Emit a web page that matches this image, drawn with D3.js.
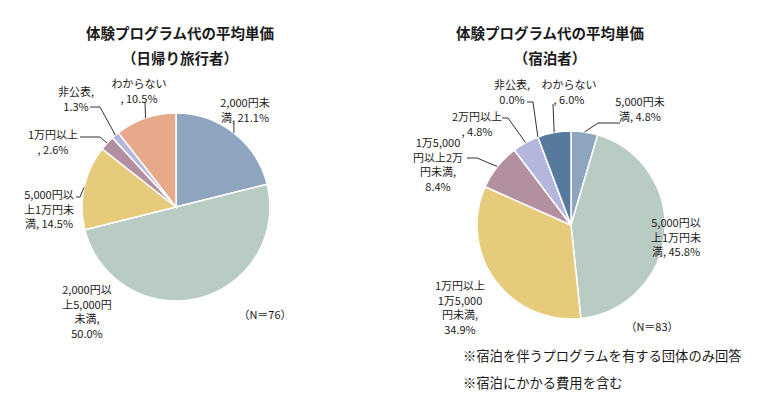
<!DOCTYPE html>
<html>
<head>
<meta charset="utf-8">
<script src="https://cdn.jsdelivr.net/npm/d3@7"></script>
<style>
  body { margin: 0; background: #fff; }
  text { font-family: "Noto Sans CJK JP", "Noto Sans", sans-serif; fill: #1a1a1a; }
</style>
</head>
<body>
<svg id="chart" width="760" height="397"></svg>
<script>
// --- data ---
const dayCategories = ['2,000円未満', '2,000円以上5,000円未満', '5,000円以上1万円未満', '1万円以上', '非公表', 'わからない'];
const dayValues = [21.1, 50.0, 14.5, 2.6, 1.3, 10.5];
const dayColors = ['#8ea5bf', '#b9ccc4', '#e6cb7d', '#b3909f', '#b4b6dc', '#e6aa8a'];

const stayCategories = ['5,000円未満', '5,000円以上1万円未満', '1万円以上1万5,000円未満', '1万5,000円以上2万円未満', '2万円以上', '非公表', 'わからない'];
const stayValues = [4.8, 45.8, 34.9, 8.4, 4.8, 0.0, 6.0];
const stayColors = ['#8ea5bf', '#b9ccc4', '#e6cb7d', '#b3909f', '#b4b6dc', '#b4b6dc', '#56799d'];

const titles = ['体験プログラム代の平均単価', '体験プログラム代の平均単価'];
const subtitles = ['（日帰り旅行者）', '（宿泊者）'];
const sampleNotes = ['（N＝76）', '（N＝83）'];
const footNotes = ['※宿泊を伴うプログラムを有する団体のみ回答', '※宿泊にかかる費用を含む'];

// --- layout: label centre, line breaks, leader path start points ---
const dayLabels = [
  { x: 245, y: 102, breaks: [7], leader: [[234, 123]] },
  { x: 87, y: 289, breaks: [7, 7, 3], leader: null },
  { x: 49, y: 194, breaks: [7, 5], leader: [[76, 197], [80, 197]] },
  { x: 53, y: 134, breaks: [5], leader: [[80, 137], [100, 137]] },
  { x: 76, y: 91, breaks: [4], leader: [[90, 107], [100, 107]] },
  { x: 139, y: 83, breaks: [5], leader: [[145, 103]] }
];
const stayLabels = [
  { x: 640, y: 101, breaks: [7], leader: [[620, 123], [598, 123]] },
  { x: 676, y: 222, breaks: [7, 5], leader: null },
  { x: 460, y: 285, breaks: [5, 7, 4], leader: null },
  { x: 438, y: 142, breaks: [7, 5, 4], leader: [[467, 158], [477, 158]] },
  { x: 477, y: 116, breaks: [5], leader: [[502, 118], [508, 118]] },
  { x: 512, y: 84, breaks: [4], leader: [[527, 102], [533, 102]] },
  { x: 569, y: 84, breaks: [5], leader: [[553, 104]] }
];

const svg = d3.select('#chart');
svg.append('rect').attr('width', 760).attr('height', 397).attr('fill', '#fff');

function splitLabel(str, breaks) {
  const out = [];
  let pos = 0;
  breaks.forEach((n) => {
    out.push(str.slice(pos, pos + n).trim());
    pos += n;
  });
  out.push(str.slice(pos).trim());
  return out;
}

function drawPie(opts) {
  const { cx, cy, r, categories, values, colors, labels, title, subtitle, titleX, nLabel } = opts;
  const g = svg.append('g');

  g.append('text').attr('x', titleX).attr('y', 32).attr('text-anchor', 'middle')
    .attr('dominant-baseline', 'central').style('font-size', '14.5px').style('font-weight', 'bold')
    .text(title);
  g.append('text').attr('x', titleX).attr('y', 57).attr('text-anchor', 'middle')
    .attr('dominant-baseline', 'central').style('font-size', '14.5px').style('font-weight', 'bold')
    .text(subtitle);

  const rows = categories.map((c, i) => ({ name: c, value: values[i], color: colors[i], label: labels[i] }));
  const pie = d3.pie().value((d) => d.value).sort(null);
  const arc = d3.arc().innerRadius(0).outerRadius(r);
  const edge = d3.arc().innerRadius(r).outerRadius(r);
  const arcs = pie(rows);

  const pg = g.append('g').attr('transform', `translate(${cx},${cy})`);
  pg.selectAll('path.slice')
    .data(arcs)
    .join('path')
    .attr('class', 'slice')
    .attr('d', arc)
    .attr('fill', (d) => d.data.color)
    .attr('stroke', '#fff')
    .attr('stroke-width', 1.5);

  // leader lines
  const line = d3.line();
  g.selectAll('path.leader')
    .data(arcs.filter((d) => d.data.label.leader))
    .join('path')
    .attr('class', 'leader')
    .attr('d', (d) => {
      const mid = (d.startAngle + d.endAngle) / 2;
      const p = edge.centroid({ startAngle: mid, endAngle: mid });
      return line(d.data.label.leader.concat([[cx + p[0], cy + p[1]]]));
    })
    .attr('fill', 'none')
    .attr('stroke', '#333')
    .attr('stroke-width', 1);

  // labels
  const lg = g.selectAll('text.lbl')
    .data(arcs)
    .join('text')
    .attr('class', 'lbl')
    .attr('text-anchor', 'middle')
    .style('font-size', '11px');
  lg.each(function (d) {
    const full = d.data.name + ', ' + d.data.value.toFixed(1) + '%';
    const parts = splitLabel(full, d.data.label.breaks);
    d3.select(this).selectAll('tspan')
      .data(parts)
      .join('tspan')
      .attr('x', d.data.label.x)
      .attr('y', (p, i) => d.data.label.y + i * 14.6)
      .attr('dominant-baseline', 'central')
      .text((p) => p);
  });

  g.append('text').attr('x', nLabel[0]).attr('y', nLabel[1]).attr('text-anchor', 'middle')
    .attr('dominant-baseline', 'central').style('font-size', '11px').text(nLabel[2]);
}

drawPie({
  cx: 176, cy: 207, r: 94,
  categories: dayCategories, values: dayValues, colors: dayColors, labels: dayLabels,
  title: titles[0], subtitle: subtitles[0], titleX: 180,
  nLabel: [265, 314, sampleNotes[0]]
});
drawPie({
  cx: 571, cy: 225, r: 94,
  categories: stayCategories, values: stayValues, colors: stayColors, labels: stayLabels,
  title: titles[1], subtitle: subtitles[1], titleX: 550,
  nLabel: [652, 326, sampleNotes[1]]
});

svg.selectAll('text.foot')
  .data(footNotes)
  .join('text')
  .attr('class', 'foot')
  .attr('x', 463)
  .attr('y', (d, i) => 355 + i * 27)
  .attr('dominant-baseline', 'central')
  .style('font-size', '13.3px')
  .text((d) => d);
</script>
</body>
</html>
